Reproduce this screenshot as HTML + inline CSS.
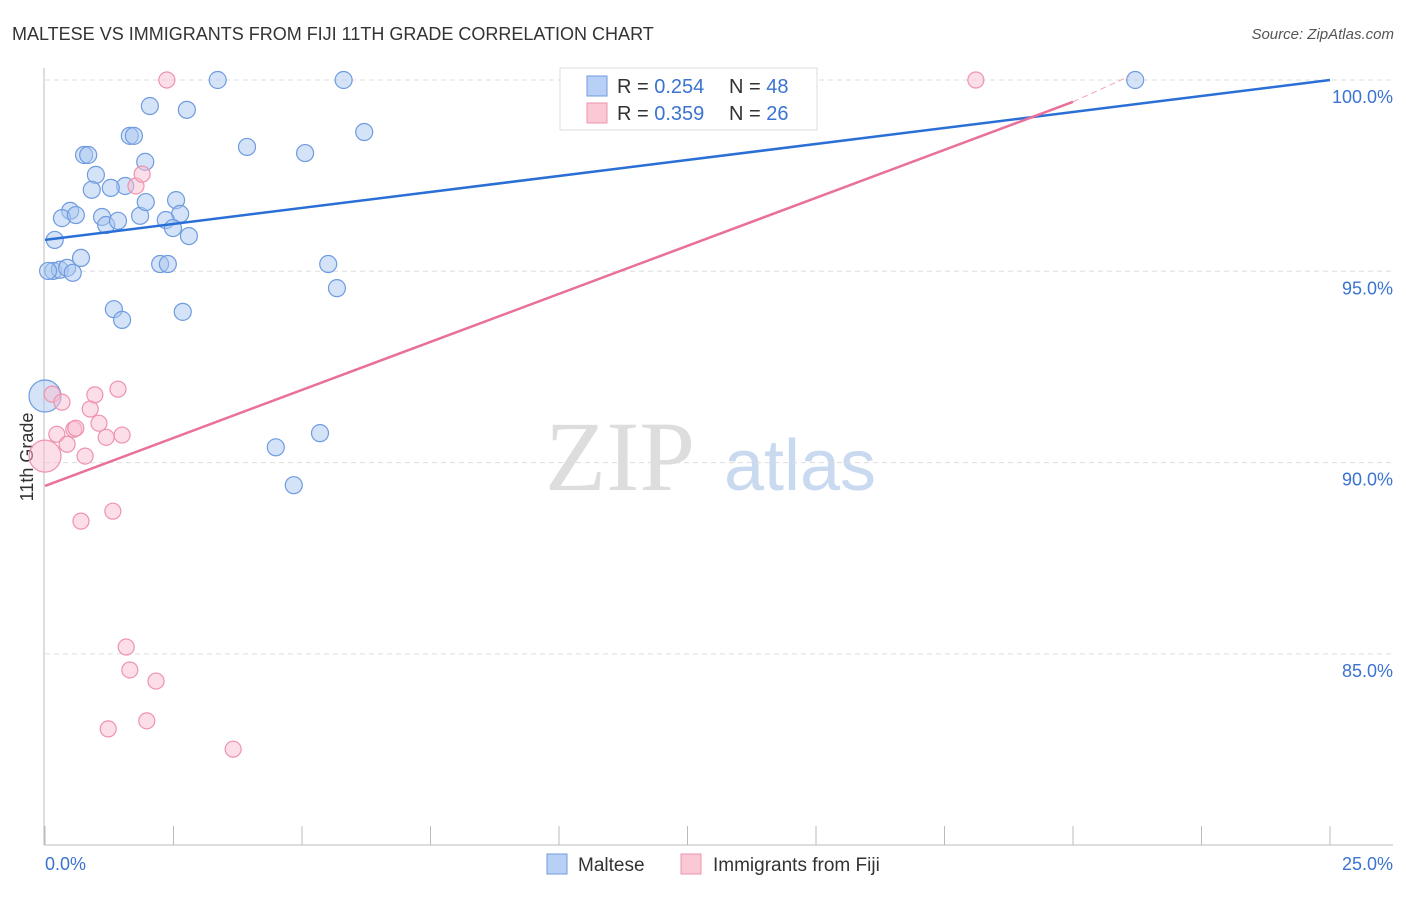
<!DOCTYPE html>
<html><head><meta charset="utf-8"><style>
body{margin:0;background:#fff;font-family:"Liberation Sans",sans-serif}
</style></head><body>
<svg id="c" width="1406" height="892" xmlns="http://www.w3.org/2000/svg" style="font-family:'Liberation Sans',sans-serif">
<text x="12" y="40" font-size="18" fill="#333">MALTESE VS IMMIGRANTS FROM FIJI 11TH GRADE CORRELATION CHART</text>
<text x="1394" y="39" font-size="15" fill="#555" font-style="italic" text-anchor="end">Source: ZipAtlas.com</text>
<text x="620" y="490" font-size="100" fill="#ddd" font-family="Liberation Serif" text-anchor="middle">ZIP</text>
<text x="800" y="490" font-size="72" fill="#c9d9f0" text-anchor="middle">atlas</text>
<text transform="translate(33,457) rotate(-90)" font-size="18" fill="#333" text-anchor="middle">11th Grade</text>
<g id="grid"></g><g id="pts"></g><g id="lines"></g>
<g>
<rect x="560" y="68" width="257" height="62" fill="#fff" stroke="#ddd"/>
<rect x="587" y="76" width="20" height="20" fill="#b8d0f5" stroke="#6f9be0"/>
<text x="617" y="93" font-size="20" fill="#333">R = <tspan fill="#3b73d1">0.254</tspan></text>
<text x="729" y="93" font-size="20" fill="#333">N = <tspan fill="#3b73d1">48</tspan></text>
<rect x="587" y="103" width="20" height="20" fill="#fbc8d6" stroke="#ee93ad"/>
<text x="617" y="120" font-size="20" fill="#333">R = <tspan fill="#3b73d1">0.359</tspan></text>
<text x="729" y="120" font-size="20" fill="#333">N = <tspan fill="#3b73d1">26</tspan></text>
</g>
<g>
<rect x="547" y="854" width="20" height="20" fill="#b8d0f5" stroke="#6f9be0"/>
<text x="578" y="871" font-size="19" fill="#333">Maltese</text>
<rect x="681" y="854" width="20" height="20" fill="#fbc8d6" stroke="#ee93ad"/>
<text x="713" y="871" font-size="19" fill="#333">Immigrants from Fiji</text>
</g>
</svg>
<script>
const xTicks=[0,2.5,5,7.5,10,12.5,15,17.5,20,22.5,25];
const yTicks=[100,95,90,85];
const yTickLabels=["100.0%","95.0%","90.0%","85.0%"];
const malteseX=[3.36,5.81,21.21,2.04,2.76,1.65,1.73,6.21,3.93,5.06,0.76,0.84,1.95,0.99,1.56,1.28,0.91,0.49,0.33,0.60,1.11,1.19,1.42,1.85,1.96,2.55,2.63,2.35,2.49,2.80,0.19,0.70,2.24,2.39,5.51,0.16,0.29,0.43,0.54,1.34,1.50,2.68,5.68,4.49,5.35,4.84,0.0,0.06];
const malteseY=[100,100,100,99.32,99.22,98.54,98.54,98.64,98.25,98.09,98.04,98.04,97.86,97.52,97.23,97.18,97.13,96.58,96.39,96.47,96.42,96.21,96.32,96.45,96.81,96.86,96.50,96.34,96.13,95.92,95.82,95.35,95.19,95.19,95.19,95.01,95.04,95.09,94.96,94.01,93.73,93.94,94.56,90.40,90.77,89.41,91.74,95.01];
const fijiX=[2.37,18.11,1.77,1.89,0.14,0.33,0.88,0.97,1.42,1.05,0.23,0.56,0.60,0.43,1.19,1.50,0.78,0.0,0.70,1.32,1.58,1.65,2.16,1.23,1.98,3.66];
const fijiY=[100,100,97.23,97.54,91.79,91.58,91.40,91.77,91.92,91.03,90.74,90.87,90.90,90.48,90.66,90.72,90.17,90.17,88.47,88.73,85.18,84.58,84.29,83.04,83.25,82.51];
const blueLine=[[0,95.82],[25,100]];
const pinkLine=[[0,89.39],[20,99.43]];
const pinkDash=[[20,99.43],[21.1,100.1]];
const X=v=>45+v/25*1285, Y=v=>80+(100-v)*38.26;
const NS="http://www.w3.org/2000/svg";
function mk(t,a,p){const e=document.createElementNS(NS,t);for(const k in a)e.setAttribute(k,a[k]);p.appendChild(e);return e;}
const g=document.getElementById('grid');
yTicks.forEach((v,i)=>{
 const l=mk('line',{x1:45,x2:1393,y1:Y(v),y2:Y(v),stroke:'#ddd','stroke-dasharray':'5,4'},g);
 
 
 const t=mk('text',{x:1393,y:Y(v)+23,'font-size':18,fill:'#3b73d1','text-anchor':'end'},g);
 t.textContent=yTickLabels[i];
 
 
});
const ax=mk('line',{x1:44,x2:44,y1:68,y2:845,stroke:'#bbb'},g);


const bx=mk('line',{x1:44,x2:1393,y1:845,y2:845,stroke:'#bbb'},g);


xTicks.forEach(v=>{
 const l=mk('line',{x1:X(v),x2:X(v),y1:826,y2:845,stroke:'#bbb'},g);
 
 
});
[[0,"0.0%",'start',45],[25,"25.0%",'end',1393]].forEach(d=>{
 const t=mk('text',{x:d[3],y:870,'font-size':18,fill:'#3b73d1','text-anchor':d[2]},g);
 t.textContent=d[1];
 
 
});
const p=document.getElementById('pts');
malteseX.forEach((x,i)=>{
 const c=mk('circle',{cx:X(x),cy:Y(malteseY[i]),r:(x==0?16:8.5),fill:'rgba(170,200,240,0.5)',stroke:'#6f9be0','stroke-width':1.2},p);
 
 
});
fijiX.forEach((x,i)=>{
 const c=mk('circle',{cx:X(x),cy:Y(fijiY[i]),r:(x==0?16:8),fill:'rgba(250,190,210,0.5)',stroke:'#ee93ad','stroke-width':1.2},p);
 
 
});
const L=document.getElementById('lines');
function ln(d,col,name,dash){const e=mk('line',{x1:X(d[0][0]),y1:Y(d[0][1]),x2:X(d[1][0]),y2:Y(d[1][1]),stroke:col,'stroke-width':dash?1:2.5},L);if(dash)e.setAttribute('stroke-dasharray','6,4');
 
 }
ln(blueLine,'#2a6fd6','maltese-trendline');
ln(pinkLine,'#e8709a','fiji-trendline');
ln(pinkDash,'#f0a0b8','fiji-trendline-extension',true);
</script>
</body></html>
